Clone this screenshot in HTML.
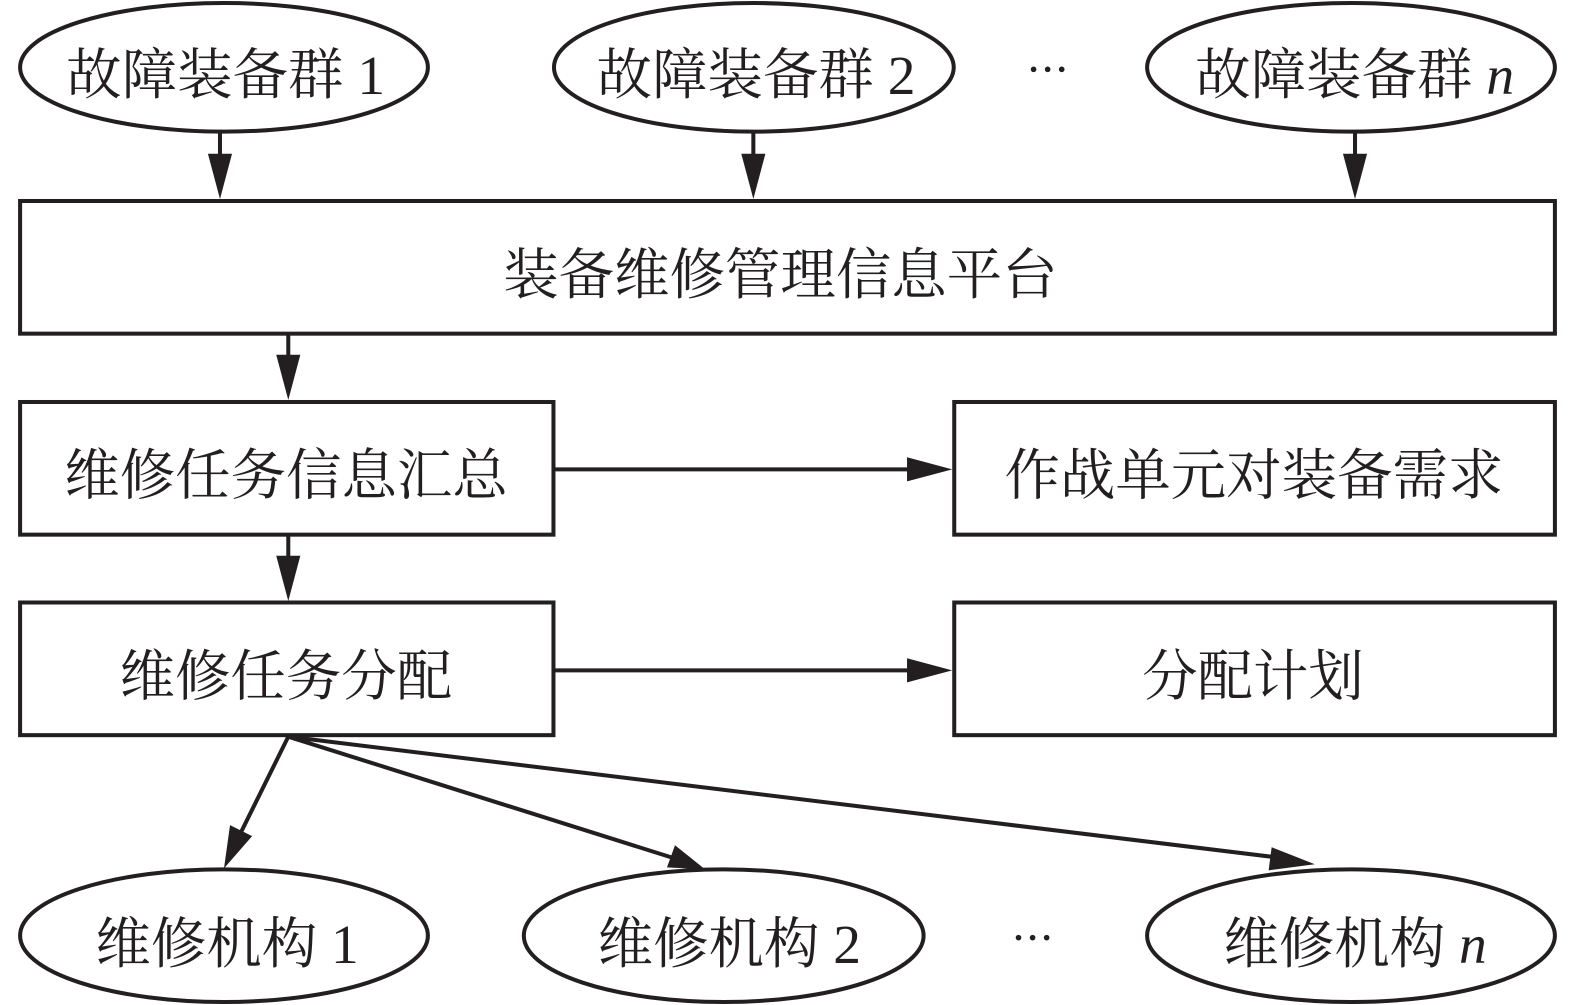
<!DOCTYPE html>
<html><head><meta charset="utf-8"><style>
html,body{margin:0;padding:0;background:#fff}
svg{display:block}
text{font-family:"Liberation Serif","Noto Serif CJK SC",serif;font-size:55.2px;fill:#231f20}
.l{stroke:#231f20;stroke-width:4;fill:#fff}
.c{stroke:#231f20;stroke-width:4;fill:none}
.a{fill:#231f20;stroke:none}
</style></head><body>
<svg width="1575" height="1005" viewBox="0 0 1568 1000" preserveAspectRatio="none" xmlns="http://www.w3.org/2000/svg">
<rect width="1568" height="1000" fill="#fff"/>
<ellipse class="l" cx="223" cy="67" rx="203" ry="64"/>
<ellipse class="l" cx="750.500" cy="67" rx="199" ry="64"/>
<ellipse class="l" cx="1345" cy="67" rx="203" ry="64"/>
<rect class="l" x="20" y="200" width="1528" height="132"/>
<rect class="l" x="20" y="400" width="531" height="132"/>
<rect class="l" x="950" y="400" width="598" height="132"/>
<rect class="l" x="20" y="599.500" width="531" height="132"/>
<rect class="l" x="950" y="599.500" width="598" height="132"/>
<ellipse class="l" cx="223" cy="931" rx="203" ry="66"/>
<ellipse class="l" cx="720.500" cy="931" rx="199" ry="66"/>
<ellipse class="l" cx="1345" cy="931" rx="203" ry="66"/>
<path class="c" d="M219 130V160M750 130V160M1349 130V160M287 332V362M287 532V562M552 467H908M552 667H908M287 733L238 832M287 733L668 853M287 733L1270 853"/>
<polygon class="a" points="219,198 207,153 231,153"/>
<polygon class="a" points="750,198 738,153 762,153"/>
<polygon class="a" points="1349,198 1337,153 1361,153"/>
<polygon class="a" points="287,398 275,353 299,353"/>
<polygon class="a" points="287,598 275,553 299,553"/>
<polygon class="a" points="948,467 903,455 903,479"/>
<polygon class="a" points="948,667 903,655 903,679"/>
<polygon class="a" points="223,864 229,821 251,832"/>
<polygon class="a" points="702,865 664,863 672,841"/>
<polygon class="a" points="1309,860 1263,866 1266,843"/>
<text x="66" y="93.500">故障装备群 1</text>
<text x="594" y="93.500">故障装备群 2</text>
<text x="1190" y="93.500">故障装备群 <tspan font-style="italic">n</tspan></text>
<text x="501" y="292.500">装备维修管理信息平台</text>
<text x="64" y="492">维修任务信息汇总</text>
<text x="1000" y="492">作战单元对装备需求</text>
<text x="119" y="692">维修任务分配</text>
<text x="1137" y="692">分配计划</text>
<text x="95" y="958">维修机构 1</text>
<text x="595" y="958">维修机构 2</text>
<text x="1218" y="958">维修机构 <tspan font-style="italic">n</tspan></text>
<circle class="a" cx="1029" cy="69" r="2.800"/><circle class="a" cx="1043" cy="69" r="2.800"/><circle class="a" cx="1057" cy="69" r="2.800"/>
<circle class="a" cx="1014" cy="933" r="2.800"/><circle class="a" cx="1028" cy="933" r="2.800"/><circle class="a" cx="1042" cy="933" r="2.800"/>
</svg>
</body></html>
